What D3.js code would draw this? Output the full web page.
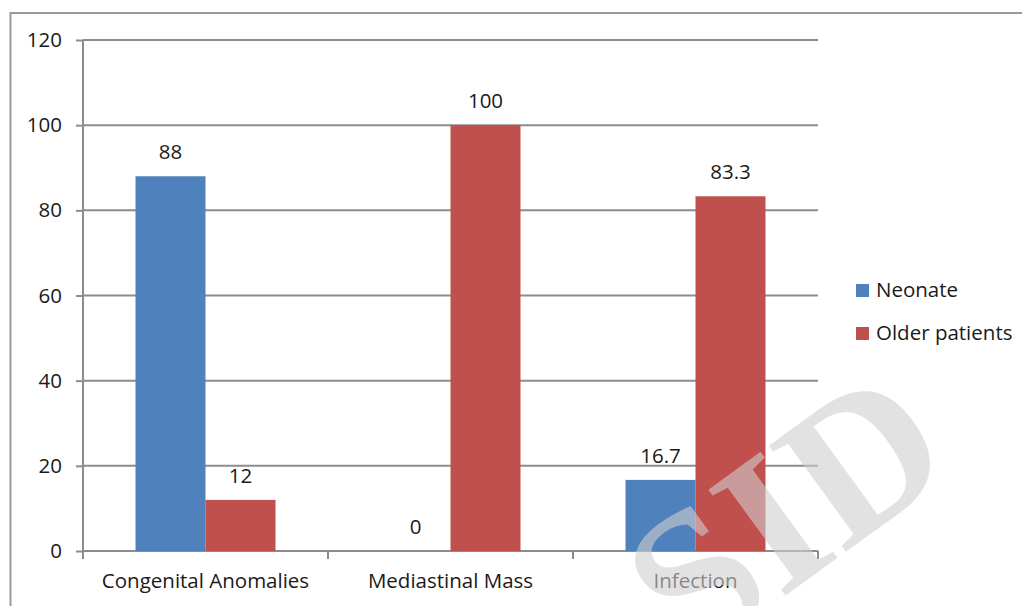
<!DOCTYPE html>
<html><head><meta charset="utf-8">
<script src="https://cdn.jsdelivr.net/npm/d3@7"></script>
<style>body{margin:0;background:#fff}svg{display:block}</style>
</head><body>
<svg id="c" width="1022" height="606"></svg>
<script>
const categories = ["Congenital Anomalies", "Mediastinal Mass", "Infection"];
const seriesNames = ["Neonate", "Older patients"];
const neonate = [88, 0, 16.7];
const older = [12, 100, 83.3];
const valueLabels = [["88","0","16.7"],["12","100","83.3"]];
const yTicks = [0, 20, 40, 60, 80, 100, 120];
const colors = ["#4F81BD", "#C0504D"];

const FONT = '"Open Sans","Liberation Sans",sans-serif';
const FS = 20.5;
const TXT = "#1a1a1a";

const svg = d3.select("#c");
const pLeft = 83, pRight = 818, pTop = 40, pBottom = 551;
const x = d3.scaleBand().domain(categories).range([pLeft, pRight]).paddingInner(0).paddingOuter(0);
const y = d3.scaleLinear().domain([0, 120]).range([pBottom, pTop]);
const xs = d3.scaleBand().domain(seriesNames).range([0, x.bandwidth()]).paddingInner(0).paddingOuter(0.75);

// outer border
svg.append("rect").attr("x", 10.5).attr("y", 13).attr("width", 1030).attr("height", 620)
  .attr("fill", "none").attr("stroke", "#9a9a9a").attr("stroke-width", 2);

// gridlines
svg.append("g").selectAll("line").data(yTicks).join("line")
  .attr("x1", pLeft).attr("x2", pRight).attr("y1", d => y(d)).attr("y2", d => y(d))
  .attr("stroke", "#8c8c8c").attr("stroke-width", 2);

// y axis
const yAxis = d3.axisLeft(y).tickValues(yTicks).tickSize(7).tickPadding(14);
const gy = svg.append("g").attr("transform", `translate(${pLeft},0)`).call(yAxis);
gy.select(".domain").attr("stroke", "#8c8c8c").attr("stroke-width", 2).attr("d", `M0,${pTop}V${pBottom + 8}`);
gy.selectAll(".tick line").attr("stroke", "#8c8c8c").attr("stroke-width", 2);
gy.selectAll(".tick text").attr("font-size", FS).attr("font-family", FONT).attr("fill", TXT);

// x axis
const xAxis = d3.axisBottom(x).tickSize(0).tickPadding(22);
const gx = svg.append("g").attr("transform", `translate(0,${pBottom})`).call(xAxis);
gx.select(".domain").remove();
gx.selectAll(".tick text").attr("font-size", FS).attr("font-family", FONT).attr("fill", TXT);
const bounds = categories.map(c => x(c)).concat([pRight]);
svg.append("g").selectAll("line").data(bounds).join("line")
  .attr("x1", d => d).attr("x2", d => d).attr("y1", pBottom).attr("y2", pBottom + 8)
  .attr("stroke", "#8c8c8c").attr("stroke-width", 2);

// bars
const series = [neonate, older];
series.forEach((vals, si) => {
  const g = svg.append("g");
  g.selectAll("rect").data(vals).join("rect")
    .attr("x", (d, i) => x(categories[i]) + xs(seriesNames[si]))
    .attr("width", xs.bandwidth())
    .attr("y", d => y(d))
    .attr("height", d => pBottom - y(d))
    .attr("fill", colors[si]);
  g.selectAll("text").data(vals).join("text")
    .attr("x", (d, i) => x(categories[i]) + xs(seriesNames[si]) + xs.bandwidth() / 2)
    .attr("y", d => y(d) - 17)
    .attr("text-anchor", "middle").attr("font-size", FS).attr("font-family", FONT).attr("fill", TXT)
    .text((d, i) => valueLabels[si][i]);
});

// legend
const lg = svg.append("g").attr("transform", "translate(856,284)");
seriesNames.forEach((n, i) => {
  lg.append("rect").attr("x", 0).attr("y", i * 43).attr("width", 13).attr("height", 13).attr("fill", colors[i]);
  lg.append("text").attr("x", 20).attr("y", i * 43 + 13).attr("font-size", FS).attr("font-family", FONT).attr("fill", TXT).text(n);
});

// watermark
svg.append("text").attr("transform", "translate(690,665) rotate(-36)")
  .attr("font-family", '"Liberation Serif","DejaVu Serif",serif').attr("font-weight", "bold").attr("font-size", 200)
  .attr("fill", "#cfcfcf").attr("opacity", 0.6).text("SID");
</script>
</body></html>
